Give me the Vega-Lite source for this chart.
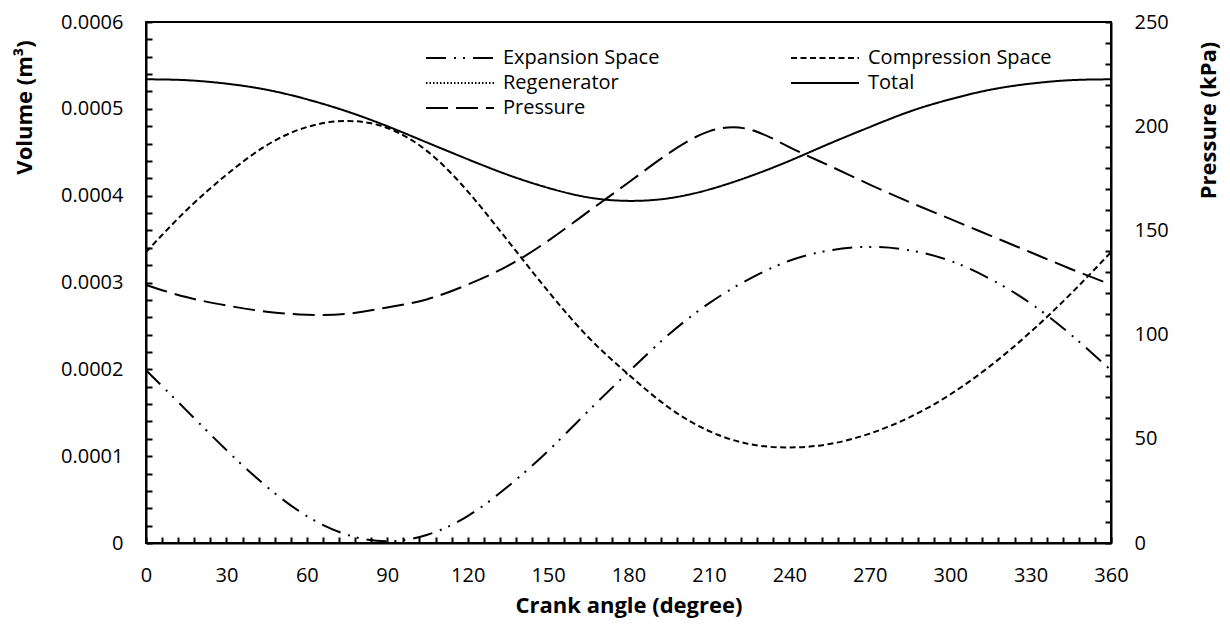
{
  "$schema": "https://vega.github.io/schema/vega-lite/v6.json",
  "width": 965,
  "height": 521,
  "autosize": {"type": "none"},
  "padding": {"left": 146, "top": 22, "right": 119, "bottom": 84},
  "background": "white",
  "config": {
    "font": "Open Sans",
    "view": {"stroke": "black", "strokeWidth": 2},
    "axis": {
      "domainColor": "black", "domainWidth": 2,
      "tickColor": "black", "tickWidth": 2, "tickSize": -6, "tickCount": 200,
      "labelColor": "black", "labelFontSize": 20, "labelFont": "Open Sans",
      "titleColor": "black", "titleFontSize": 22, "titleFontWeight": "bold", "titleFont": "Open Sans",
      "grid": false, "labelOverlap": false, "labelFlush": false, "labelBound": false
    },
    "legend": {
      "orient": "none", "legendX": 279, "legendY": 26, "columns": 2,
      "columnPadding": 130, "rowPadding": 5, "padding": 0, "clipHeight": 20,
      "symbolType": "stroke", "symbolSize": 4624, "symbolStrokeWidth": 2,
      "symbolStrokeColor": "black", "labelFontSize": 20, "labelColor": "black",
      "labelFont": "Open Sans", "labelOffset": 8, "labelLimit": 400, "title": null
    }
  },
  "datasets": {
    "rows": [
      {"angle": 0, "series": "Expansion Space", "value": 0.000199},
      {"angle": 15, "series": "Expansion Space", "value": 0.000153},
      {"angle": 30, "series": "Expansion Space", "value": 0.000107},
      {"angle": 45, "series": "Expansion Space", "value": 0.000065},
      {"angle": 60, "series": "Expansion Space", "value": 0.000031},
      {"angle": 75, "series": "Expansion Space", "value": 0.0000095},
      {"angle": 90, "series": "Expansion Space", "value": 0.000002},
      {"angle": 105, "series": "Expansion Space", "value": 0.0000095},
      {"angle": 120, "series": "Expansion Space", "value": 0.000031},
      {"angle": 135, "series": "Expansion Space", "value": 0.000065},
      {"angle": 150, "series": "Expansion Space", "value": 0.000106},
      {"angle": 165, "series": "Expansion Space", "value": 0.000152},
      {"angle": 180, "series": "Expansion Space", "value": 0.000197},
      {"angle": 195, "series": "Expansion Space", "value": 0.000240},
      {"angle": 210, "series": "Expansion Space", "value": 0.000276},
      {"angle": 225, "series": "Expansion Space", "value": 0.000304},
      {"angle": 240, "series": "Expansion Space", "value": 0.000325},
      {"angle": 255, "series": "Expansion Space", "value": 0.000337},
      {"angle": 270, "series": "Expansion Space", "value": 0.000341},
      {"angle": 285, "series": "Expansion Space", "value": 0.000337},
      {"angle": 300, "series": "Expansion Space", "value": 0.000325},
      {"angle": 315, "series": "Expansion Space", "value": 0.000304},
      {"angle": 330, "series": "Expansion Space", "value": 0.000276},
      {"angle": 345, "series": "Expansion Space", "value": 0.000240},
      {"angle": 360, "series": "Expansion Space", "value": 0.000199},

      {"angle": 0, "series": "Compression Space", "value": 0.000335},
      {"angle": 15, "series": "Compression Space", "value": 0.000383},
      {"angle": 30, "series": "Compression Space", "value": 0.000424},
      {"angle": 45, "series": "Compression Space", "value": 0.000458},
      {"angle": 60, "series": "Compression Space", "value": 0.000479},
      {"angle": 75, "series": "Compression Space", "value": 0.000486},
      {"angle": 90, "series": "Compression Space", "value": 0.000478},
      {"angle": 105, "series": "Compression Space", "value": 0.000451},
      {"angle": 120, "series": "Compression Space", "value": 0.000405},
      {"angle": 135, "series": "Compression Space", "value": 0.000348},
      {"angle": 150, "series": "Compression Space", "value": 0.000290},
      {"angle": 165, "series": "Compression Space", "value": 0.000237},
      {"angle": 180, "series": "Compression Space", "value": 0.000194},
      {"angle": 195, "series": "Compression Space", "value": 0.000156},
      {"angle": 210, "series": "Compression Space", "value": 0.000129},
      {"angle": 225, "series": "Compression Space", "value": 0.000114},
      {"angle": 240, "series": "Compression Space", "value": 0.000110},
      {"angle": 255, "series": "Compression Space", "value": 0.000114},
      {"angle": 270, "series": "Compression Space", "value": 0.000126},
      {"angle": 285, "series": "Compression Space", "value": 0.000145},
      {"angle": 300, "series": "Compression Space", "value": 0.000171},
      {"angle": 315, "series": "Compression Space", "value": 0.000204},
      {"angle": 330, "series": "Compression Space", "value": 0.000243},
      {"angle": 345, "series": "Compression Space", "value": 0.000287},
      {"angle": 360, "series": "Compression Space", "value": 0.000335},

      {"angle": 0, "series": "Regenerator", "value": 0},
      {"angle": 360, "series": "Regenerator", "value": 0},

      {"angle": 0, "series": "Total", "value": 0.000534},
      {"angle": 15, "series": "Total", "value": 0.000533},
      {"angle": 30, "series": "Total", "value": 0.000529},
      {"angle": 45, "series": "Total", "value": 0.000522},
      {"angle": 60, "series": "Total", "value": 0.000511},
      {"angle": 75, "series": "Total", "value": 0.000497},
      {"angle": 90, "series": "Total", "value": 0.000480},
      {"angle": 105, "series": "Total", "value": 0.000461},
      {"angle": 120, "series": "Total", "value": 0.000442},
      {"angle": 135, "series": "Total", "value": 0.000424},
      {"angle": 150, "series": "Total", "value": 0.000409},
      {"angle": 165, "series": "Total", "value": 0.000398},
      {"angle": 180, "series": "Total", "value": 0.000394},
      {"angle": 195, "series": "Total", "value": 0.000397},
      {"angle": 210, "series": "Total", "value": 0.000407},
      {"angle": 225, "series": "Total", "value": 0.000422},
      {"angle": 240, "series": "Total", "value": 0.000440},
      {"angle": 255, "series": "Total", "value": 0.000460},
      {"angle": 270, "series": "Total", "value": 0.000479},
      {"angle": 285, "series": "Total", "value": 0.000497},
      {"angle": 300, "series": "Total", "value": 0.000511},
      {"angle": 315, "series": "Total", "value": 0.000522},
      {"angle": 330, "series": "Total", "value": 0.000529},
      {"angle": 345, "series": "Total", "value": 0.000533},
      {"angle": 360, "series": "Total", "value": 0.000534},

      {"angle": 0, "series": "Pressure", "value": 123.8},
      {"angle": 15, "series": "Pressure", "value": 118},
      {"angle": 30, "series": "Pressure", "value": 114},
      {"angle": 45, "series": "Pressure", "value": 111},
      {"angle": 60, "series": "Pressure", "value": 109.5},
      {"angle": 75, "series": "Pressure", "value": 110},
      {"angle": 90, "series": "Pressure", "value": 113},
      {"angle": 105, "series": "Pressure", "value": 117},
      {"angle": 120, "series": "Pressure", "value": 124},
      {"angle": 135, "series": "Pressure", "value": 133},
      {"angle": 150, "series": "Pressure", "value": 145},
      {"angle": 165, "series": "Pressure", "value": 159},
      {"angle": 180, "series": "Pressure", "value": 173},
      {"angle": 195, "series": "Pressure", "value": 187},
      {"angle": 210, "series": "Pressure", "value": 197.5},
      {"angle": 225, "series": "Pressure", "value": 198.5},
      {"angle": 240, "series": "Pressure", "value": 190},
      {"angle": 255, "series": "Pressure", "value": 181},
      {"angle": 270, "series": "Pressure", "value": 172},
      {"angle": 285, "series": "Pressure", "value": 163.5},
      {"angle": 300, "series": "Pressure", "value": 155.5},
      {"angle": 315, "series": "Pressure", "value": 147.5},
      {"angle": 330, "series": "Pressure", "value": 139.5},
      {"angle": 345, "series": "Pressure", "value": 131.5},
      {"angle": 360, "series": "Pressure", "value": 124}
    ]
  },
  "layer": [
    {
      "data": {"name": "rows"},
      "transform": [{"filter": "datum.series !== 'Pressure'"}],
      "mark": {"type": "line", "color": "black", "strokeWidth": 2, "interpolate": "natural"},
      "encoding": {
        "x": {
          "field": "angle", "type": "quantitative",
          "scale": {"domain": [0, 360], "nice": false},
          "axis": {
            "title": "Crank angle (degree)",
            "values": [0,6,12,18,24,30,36,42,48,54,60,66,72,78,84,90,96,102,108,114,120,126,132,138,144,150,156,162,168,174,180,186,192,198,204,210,216,222,228,234,240,246,252,258,264,270,276,282,288,294,300,306,312,318,324,330,336,342,348,354,360],
            "labelExpr": "datum.value % 30 === 0 ? datum.label : ''",
            "labelPadding": 28, "titlePadding": 10
          }
        },
        "y": {
          "field": "value", "type": "quantitative",
          "scale": {"domain": [0, 0.0006], "nice": false},
          "axis": {
            "title": "Volume (m³)",
            "orient": "left",
            "values": [0,0.00002,0.00004,0.00006,0.00008,0.0001,0.00012,0.00014,0.00016,0.00018,0.0002,0.00022,0.00024,0.00026,0.00028,0.0003,0.00032,0.00034,0.00036,0.00038,0.0004,0.00042,0.00044,0.00046,0.00048,0.0005,0.00052,0.00054,0.00056,0.00058,0.0006],
            "labelExpr": "round(datum.value * 100000) % 10 === 0 ? format(datum.value, '~g') : ''",
            "labelPadding": 29, "titlePadding": 24, "titleY": 85
          }
        },
        "strokeDash": {
          "field": "series", "type": "nominal",
          "scale": {
            "domain": ["Expansion Space", "Regenerator", "Pressure", "Compression Space", "Total"],
            "range": [[20, 8, 2, 7, 2, 8], [1.5, 2], [22, 8], [6, 3.5], [1, 0]]
          }
        }
      }
    },
    {
      "data": {"name": "rows"},
      "transform": [{"filter": "datum.series === 'Pressure'"}],
      "mark": {"type": "line", "color": "black", "strokeWidth": 2, "interpolate": "natural"},
      "encoding": {
        "x": {"field": "angle", "type": "quantitative"},
        "y": {
          "field": "value", "type": "quantitative",
          "scale": {"domain": [0, 250], "nice": false},
          "axis": {
            "title": "Pressure (kPa)",
            "orient": "right",
            "values": [0,10,20,30,40,50,60,70,80,90,100,110,120,130,140,150,160,170,180,190,200,210,220,230,240,250],
            "labelExpr": "datum.value % 50 === 0 ? datum.label : ''",
            "labelPadding": 29, "titlePadding": 30, "titleY": 98,
            "titleAngle": -90, "titleBaseline": "top"
          }
        },
        "strokeDash": {
          "field": "series", "type": "nominal",
          "scale": {
            "domain": ["Expansion Space", "Regenerator", "Pressure", "Compression Space", "Total"],
            "range": [[20, 8, 2, 7, 2, 8], [1.5, 2], [22, 8], [6, 3.5], [1, 0]]
          }
        }
      }
    }
  ],
  "resolve": {"scale": {"y": "independent"}}
}
